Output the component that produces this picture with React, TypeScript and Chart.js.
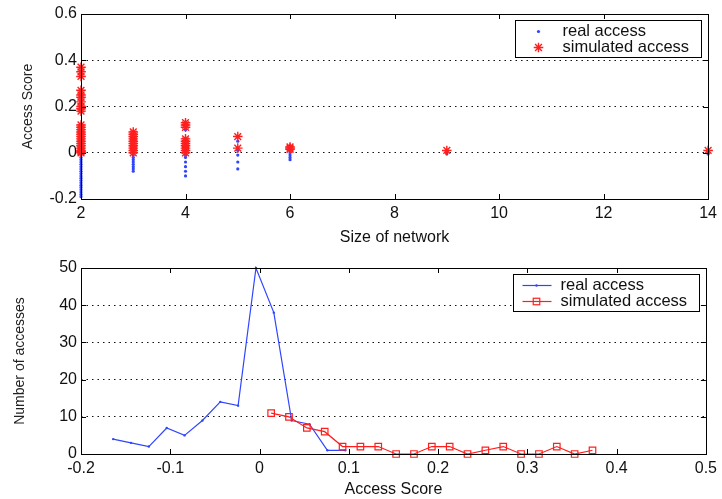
import React, { useEffect, useRef } from 'react';
import { Chart, registerables } from 'chart.js';

Chart.register(...registerables);

// ---------- Top plot: access score by network size ----------
const networkSizes = [2, 3, 4, 5, 6, 9, 14];
const realScoresBySize = [
  [0.01, 0, -0.01, -0.02, -0.03, -0.04, -0.05, -0.06, -0.07, -0.08, -0.09, -0.1, -0.11, -0.12, -0.13, -0.14, -0.15, -0.16, -0.17, -0.18, -0.19],
  [-0.01, -0.02, -0.03, -0.04, -0.05, -0.06, -0.07, -0.08],
  [0.1, -0.01, -0.02, -0.04, -0.06, -0.08, -0.1],
  [0.05, 0.01, -0.01, -0.04, -0.07],
  [0.01, 0, -0.01, -0.02, -0.03],
  [0, -0.005],
  [0, -0.005],
];
const simScoresBySize = [
  [0.37, 0.35, 0.33, 0.27, 0.25, 0.24, 0.22, 0.2, 0.19, 0.18, 0.12, 0.11, 0.1, 0.09, 0.08, 0.07, 0.06, 0.05, 0.04, 0.03, 0.02, 0.01, 0.005, 0],
  [0.09, 0.08, 0.07, 0.06, 0.05, 0.04, 0.03, 0.02, 0.01, 0],
  [0.13, 0.12, 0.11, 0.06, 0.05, 0.04, 0.03, 0.02, 0.01, 0],
  [0.07, 0.02],
  [0.025, 0.02, 0.015],
  [0.01],
  [0.01],
];
const topXTicks = [2, 4, 6, 8, 10, 12, 14];
const topYTicks = [-0.2, 0, 0.2, 0.4, 0.6];

// ---------- Bottom plot: distribution of access scores ----------
const realBins = [-0.164, -0.144, -0.124, -0.104, -0.084, -0.064, -0.044, -0.024, -0.004, 0.016, 0.036, 0.056, 0.076, 0.096];
const realCounts = [4, 3, 2, 7, 5, 9, 14, 13, 50, 38, 9, 8, 1, 1];
const simBins = [0.013, 0.033, 0.053, 0.073, 0.093, 0.113, 0.133, 0.153, 0.173, 0.193, 0.213, 0.233, 0.253, 0.273, 0.293, 0.313, 0.333, 0.353, 0.373];
const simCounts = [11, 10, 7, 6, 2, 2, 2, 0, 0, 2, 2, 0, 1, 2, 0, 0, 2, 0, 1];
const bottomXTicks = [-0.2, -0.1, 0, 0.1, 0.2, 0.3, 0.4, 0.5];
const bottomYTicks = [0, 10, 20, 30, 40, 50];

const legendLabels = ['real access', 'simulated access'];

const FONT = '"Liberation Sans", Arial, Helvetica, sans-serif';
const BLUE = '#2f45ff';
const RED = '#ff1e1e';

function drawStar(ctx: CanvasRenderingContext2D, x: number, y: number, r: number) {
  ctx.beginPath();
  for (let i = 0; i < 4; i++) {
    const a = (Math.PI / 4) * i;
    ctx.moveTo(x - Math.cos(a) * r, y - Math.sin(a) * r);
    ctx.lineTo(x + Math.cos(a) * r, y + Math.sin(a) * r);
  }
  ctx.stroke();
}

const framePlugin = {
  id: 'matlabFrame',
  afterDraw(chart: any, _args: any, opts: any) {
    const { ctx, chartArea } = chart;
    const { left, top, right, bottom } = chartArea;
    const xs = chart.scales.x;
    const ys = chart.scales.y;
    ctx.save();
    ctx.strokeStyle = '#000';
    ctx.lineWidth = 1;
    ctx.strokeRect(Math.round(left) + 0.5, Math.round(top) + 0.5, Math.round(right - left), Math.round(bottom - top));
    ctx.beginPath();
    const tl = 5;
    xs.ticks.forEach((t: any) => {
      const px = Math.round(xs.getPixelForValue(t.value)) + 0.5;
      ctx.moveTo(px, bottom);
      ctx.lineTo(px, bottom - tl);
      ctx.moveTo(px, top);
      ctx.lineTo(px, top + tl);
    });
    ys.ticks.forEach((t: any) => {
      const py = Math.round(ys.getPixelForValue(t.value)) + 0.5;
      ctx.moveTo(left, py);
      ctx.lineTo(left + tl, py);
      ctx.moveTo(right, py);
      ctx.lineTo(right - tl, py);
    });
    ctx.stroke();

    // legend box
    const w = 186;
    const h = 37;
    const bx = Math.round(right - 7 - w) + 0.5;
    const by = Math.round(top + 6) + 0.5;
    ctx.fillStyle = '#fff';
    ctx.fillRect(bx, by, w, h);
    ctx.strokeStyle = '#000';
    ctx.strokeRect(bx, by, w, h);
    ctx.font = `16.5px ${FONT}`;
    ctx.textBaseline = 'middle';
    ctx.textAlign = 'left';
    const rows = [by + 11, by + 27];
    chart.data.datasets.forEach((ds: any, i: number) => {
      const y = rows[i];
      const mx = bx + 23;
      if (opts.lines) {
        ctx.strokeStyle = ds.borderColor;
        ctx.lineWidth = 1.2;
        ctx.beginPath();
        ctx.moveTo(bx + 9, y);
        ctx.lineTo(bx + 38, y);
        ctx.stroke();
      }
      if (ds.pointStyle === 'star') {
        ctx.strokeStyle = ds.borderColor;
        ctx.lineWidth = ds.borderWidth;
        drawStar(ctx, mx, y, ds.pointRadius);
      } else if (ds.pointStyle === 'rect') {
        ctx.strokeStyle = ds.borderColor;
        ctx.lineWidth = 1.2;
        const s = ds.pointRadius * Math.SQRT1_2;
        ctx.strokeRect(mx - s, y - s, 2 * s, 2 * s);
      } else {
        ctx.fillStyle = ds.pointBackgroundColor || ds.backgroundColor;
        ctx.beginPath();
        ctx.arc(mx, y, ds.pointRadius, 0, Math.PI * 2);
        ctx.fill();
      }
      ctx.fillStyle = '#111';
      ctx.fillText(ds.label, bx + 47, y);
    });
    ctx.restore();
  },
};

function gridColor(ticks: number[]) {
  return (c: any) => {
    const v = c.tick ? c.tick.value : null;
    if (v === ticks[0] || v === ticks[ticks.length - 1]) return 'rgba(0,0,0,0)';
    return '#111';
  };
}

function makeScales(xTicks: number[], yTicks: number[], xTitle: string, yTitle: string, yWidth: number, xHeight: number, xTitlePad: number, yPad: number) {
  return {
    x: {
      type: 'linear',
      min: xTicks[0],
      max: xTicks[xTicks.length - 1],
      afterBuildTicks: (s: any) => { s.ticks = xTicks.map((v) => ({ value: v })); },
      afterFit: (s: any) => { s.height = xHeight; },
      grid: { display: false, drawTicks: false },
      border: { display: false },
      ticks: { color: '#111', padding: 5, font: { family: FONT, size: 16 }, maxRotation: 0, autoSkip: false },
      title: { display: true, text: xTitle, color: '#111', font: { family: FONT, size: 16 }, padding: { top: 0, bottom: xTitlePad } },
    },
    y: {
      type: 'linear',
      min: yTicks[0],
      max: yTicks[yTicks.length - 1],
      afterBuildTicks: (s: any) => { s.ticks = yTicks.map((v) => ({ value: v })); },
      afterFit: (s: any) => { s.width = yWidth; },
      grid: { display: true, drawTicks: false, color: gridColor(yTicks), lineWidth: 1 },
      border: { display: false, dash: [1.5, 4] },
      ticks: { color: '#111', padding: 4, font: { family: FONT, size: 16 }, autoSkip: false },
      title: { display: true, text: yTitle, color: '#222', font: { family: FONT, size: 14 }, padding: { top: yPad, bottom: 0 } },
    },
  };
}

export default function App() {
  const topRef = useRef<HTMLCanvasElement>(null);
  const botRef = useRef<HTMLCanvasElement>(null);

  useEffect(() => {
    const realPts: any[] = [];
    const simPts: any[] = [];
    networkSizes.forEach((n, i) => {
      realScoresBySize[i].forEach((v) => realPts.push({ x: n, y: v }));
      simScoresBySize[i].forEach((v) => simPts.push({ x: n, y: v }));
    });

    const top = new Chart(topRef.current!, {
      type: 'scatter',
      data: {
        datasets: [
          { label: legendLabels[0], data: realPts, pointStyle: 'circle', pointRadius: 1.6, backgroundColor: BLUE, pointBackgroundColor: BLUE, borderWidth: 0, order: 2, clip: false } as any,
          { label: legendLabels[1], data: simPts, pointStyle: 'star', pointRadius: 4.8, borderColor: RED, backgroundColor: RED, borderWidth: 1.4, order: 1, clip: false } as any,
        ],
      },
      options: {
        animation: false,
        responsive: false,
        layout: { padding: { top: 14, right: 12, left: 0, bottom: 0 } },
        plugins: { legend: { display: false }, tooltip: { enabled: false }, matlabFrame: { lines: false } } as any,
        scales: makeScales(topXTicks, topYTicks, 'Size of network', 'Access Score', 81, 51, 3, 20) as any,
      },
      plugins: [framePlugin],
    });

    const bottom = new Chart(botRef.current!, {
      type: 'line',
      data: {
        datasets: [
          { label: legendLabels[0], data: realBins.map((x, i) => ({ x, y: realCounts[i] })), borderColor: BLUE, borderWidth: 1.2, pointStyle: 'circle', pointRadius: 1.2, pointBackgroundColor: BLUE, pointBorderWidth: 0, order: 2, clip: false } as any,
          { label: legendLabels[1], data: simBins.map((x, i) => ({ x, y: simCounts[i] })), borderColor: RED, borderWidth: 1.2, pointStyle: 'rect', pointRadius: 4.6, pointBackgroundColor: 'rgba(0,0,0,0)', pointBorderColor: RED, pointBorderWidth: 1.2, order: 1, clip: false } as any,
        ],
      },
      options: {
        animation: false,
        responsive: false,
        layout: { padding: { top: 18, right: 12, left: 0, bottom: 0 } },
        plugins: { legend: { display: false }, tooltip: { enabled: false }, matlabFrame: { lines: true } } as any,
        scales: makeScales(bottomXTicks, bottomYTicks, 'Access Score', 'Number of accesses', 81, 45, 0, 12) as any,
      },
      plugins: [framePlugin],
    });

    return () => {
      top.destroy();
      bottom.destroy();
    };
  }, []);

  return (
    <div style={{ position: 'absolute', left: 0, top: 0, width: 722, height: 499, background: '#fff' }}>
      <canvas ref={topRef} width={722} height={250} style={{ display: 'block', width: 722, height: 250 }} />
      <canvas ref={botRef} width={722} height={249} style={{ display: 'block', width: 722, height: 249 }} />
    </div>
  );
}
